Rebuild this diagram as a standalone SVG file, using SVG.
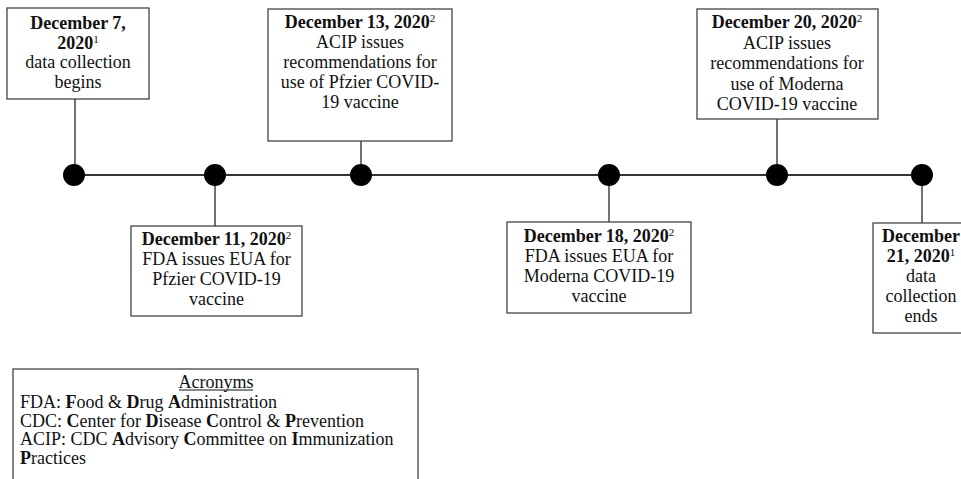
<svg xmlns="http://www.w3.org/2000/svg" width="961" height="479" viewBox="0 0 961 479">
<style>
text{font-family:"Liberation Serif","Times New Roman",serif;font-size:18px;fill:#111}
.c{text-anchor:middle}
.b{font-weight:bold}
.sup{font-size:11px;font-weight:normal}
.box{fill:#fff;stroke:#444;stroke-width:1.3}
.ln{stroke:#444;stroke-width:1.5;fill:none}
.tl{stroke:#333;stroke-width:2.2;fill:none}
.dot{fill:#000}
</style>
<rect width="961" height="479" fill="#fff"/>
<g id="connectors">
<line class="tl" x1="74" y1="175" x2="922" y2="175"/>
<line class="ln" x1="75" y1="99" x2="75" y2="175"/>
<line class="ln" x1="215" y1="175" x2="215" y2="226"/>
<line class="ln" x1="361" y1="141" x2="361" y2="175"/>
<line class="ln" x1="609" y1="175" x2="609" y2="222"/>
<line class="ln" x1="777" y1="119" x2="777" y2="175"/>
<line class="ln" x1="922" y1="175" x2="922" y2="223"/>
<circle class="dot" cx="74" cy="175" r="11"/>
<circle class="dot" cx="215" cy="175" r="11"/>
<circle class="dot" cx="361" cy="175" r="11"/>
<circle class="dot" cx="609" cy="175" r="11"/>
<circle class="dot" cx="777" cy="175" r="11"/>
<circle class="dot" cx="922" cy="175" r="11"/>
</g>
<g id="dec7">
<rect class="box" x="7" y="8" width="142" height="91"/>
<text class="c b" x="78" y="29">December 7,</text>
<text class="c b" x="78" y="48.5">2020<tspan class="sup" dy="-6">1</tspan></text>
<text class="c" x="78" y="68">data collection</text>
<text class="c" x="78" y="87.5">begins</text>
</g>
<g id="dec11">
<rect class="box" x="131" y="226" width="171" height="90"/>
<text class="c b" x="216.5" y="245">December 11, 2020<tspan class="sup" dy="-6">2</tspan></text>
<text class="c" x="216.5" y="265">FDA issues EUA for</text>
<text class="c" x="216.5" y="285">Pfzier COVID-19</text>
<text class="c" x="216.5" y="305">vaccine</text>
</g>
<g id="dec13">
<rect class="box" x="268" y="9" width="184" height="132"/>
<text class="c b" x="360" y="28">December 13, 2020<tspan class="sup" dy="-6">2</tspan></text>
<text class="c" x="360" y="48">ACIP issues</text>
<text class="c" x="360" y="68">recommendations for</text>
<text class="c" x="360" y="88">use of Pfzier COVID-</text>
<text class="c" x="360" y="108">19 vaccine</text>
</g>
<g id="dec18">
<rect class="box" x="507" y="222" width="184" height="91"/>
<text class="c b" x="599" y="242">December 18, 2020<tspan class="sup" dy="-6">2</tspan></text>
<text class="c" x="599" y="262">FDA issues EUA for</text>
<text class="c" x="599" y="282">Moderna COVID-19</text>
<text class="c" x="599" y="302">vaccine</text>
</g>
<g id="dec20">
<rect class="box" x="697" y="9" width="181" height="110"/>
<text class="c b" x="787" y="28">December 20, 2020<tspan class="sup" dy="-6">2</tspan></text>
<text class="c" x="787" y="48.5">ACIP issues</text>
<text class="c" x="787" y="69">recommendations for</text>
<text class="c" x="787" y="89.5">use of Moderna</text>
<text class="c" x="787" y="110">COVID-19 vaccine</text>
</g>
<g id="dec21">
<rect class="box" x="873" y="223" width="96" height="110"/>
<text class="c b" x="921" y="242">December</text>
<text class="c b" x="921" y="262">21, 2020<tspan class="sup" dy="-6">1</tspan></text>
<text class="c" x="921" y="281.5">data</text>
<text class="c" x="921" y="301.5">collection</text>
<text class="c" x="921" y="321.5">ends</text>
</g>
<g id="acronyms">
<rect class="box" x="13" y="369" width="405" height="120"/>
<text class="c" x="216" y="388">Acronyms</text>
<line x1="179" y1="390" x2="253" y2="390" stroke="#111" stroke-width="1"/>
<text x="20" y="407.5">FDA: <tspan class="b">F</tspan>ood &amp; <tspan class="b">D</tspan>rug <tspan class="b">A</tspan>dministration</text>
<text x="20" y="426.5">CDC: <tspan class="b">C</tspan>enter for <tspan class="b">D</tspan>isease <tspan class="b">C</tspan>ontrol &amp; <tspan class="b">P</tspan>revention</text>
<text x="20" y="445">ACIP: CDC <tspan class="b">A</tspan>dvisory <tspan class="b">C</tspan>ommittee on <tspan class="b">I</tspan>mmunization</text>
<text x="20" y="464"><tspan class="b">P</tspan>ractices</text>
</g>
</svg>
